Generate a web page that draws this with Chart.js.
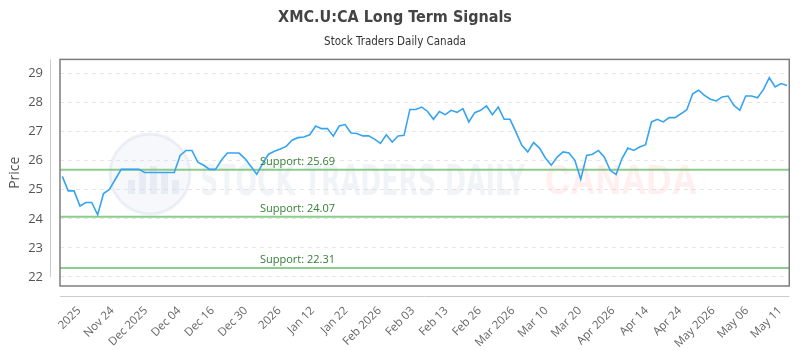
<!DOCTYPE html>
<html>
<head>
<meta charset="utf-8">
<script src="https://cdn.jsdelivr.net/npm/chart.js@4.4.0/dist/chart.umd.min.js"></script>
<style>
  body { margin: 0; background: #fff; }
  .ChartWrapper { width: 800px; height: 350px; }
</style>
</head>
<body>
<div class="ChartWrapper"><canvas id="SignalsPlot"></canvas></div>
<script>
// daily closes
const prices = [
  25.46, 24.96, 24.96, 24.44, 24.56, 24.56, 24.14, 24.87, 25.01, 25.36,
  25.70, 25.70, 25.70, 25.70, 25.59, 25.59, 25.59, 25.59, 25.59, 25.59,
  26.18, 26.35, 26.35, 25.95, 25.84, 25.70, 25.70, 26.01, 26.26, 26.26,
  26.26, 26.07, 25.81, 25.53, 25.90, 26.22, 26.32, 26.40, 26.49, 26.70,
  26.79, 26.81, 26.89, 27.19, 27.10, 27.10, 26.84, 27.19, 27.24, 26.95,
  26.93, 26.85, 26.85, 26.74, 26.59, 26.89, 26.64, 26.85, 26.87, 27.76,
  27.76, 27.84, 27.69, 27.42, 27.69, 27.58, 27.73, 27.66, 27.79, 27.33,
  27.65, 27.73, 27.88, 27.58, 27.84, 27.42, 27.42, 26.98, 26.53, 26.30,
  26.62, 26.43, 26.09, 25.84, 26.12, 26.30, 26.26, 26.01, 25.36, 26.18,
  26.22, 26.35, 26.12, 25.67, 25.52, 26.07, 26.43, 26.35, 26.47, 26.55,
  27.33, 27.42, 27.33, 27.48, 27.48, 27.61, 27.75, 28.30, 28.42, 28.24,
  28.11, 28.05, 28.19, 28.22, 27.90, 27.73, 28.22, 28.22, 28.16, 28.44,
  28.85, 28.53, 28.65, 28.58
]

const tickLabels = [
  '2025', 'Nov 24', 'Dec 2025', 'Dec 04', 'Dec 16', 'Dec 30', '2026', 'Jan 12',
  'Jan 22', 'Feb 2026', 'Feb 03', 'Feb 13', 'Feb 26', 'Mar 2026', 'Mar 10',
  'Mar 20', 'Apr 2026', 'Apr 14', 'Apr 24', 'May 2026', 'May 06', 'May 11'
]

const supportLevels = [25.69, 24.07, 22.31]
const priceTicks = [22, 23, 24, 25, 26, 27, 28, 29]

const xMin = -0.39, xMax = prices.length - 1 + 0.39
const firstTick = 2.83, tickStep = 5.667

const pricePoints = prices.map((p, i) => ({x: i, y: p}))

const supportSets = supportLevels.map(level => ({
    label: 'Support: ' + level.toFixed(2),
    data: [{x: xMin, y: level}, {x: xMax, y: level}],
    borderColor: 'rgba(120, 195, 120, 0.85)',
    borderWidth: 2,
    pointRadius: 0,
    order: 2,
}))

// fits a string into a box by scaling it
function fitText(ctx, text, x, y, w, h, font, color) {
    ctx.save()
    ctx.font = font
    ctx.fillStyle = color
    ctx.textBaseline = 'alphabetic'
    const m = ctx.measureText(text)
    const tw = m.width
    const th = m.actualBoundingBoxAscent
    ctx.translate(x, y + h)
    ctx.scale(w / tw, h / th)
    ctx.fillText(text, 0, 0)
    ctx.restore()
}

const frame = {
    id: 'frame',
    beforeDatasetsDraw(chart) {
        const {ctx} = chart
        // watermark
        ctx.save()
        ctx.beginPath()
        ctx.arc(150, 174, 40, 0, Math.PI * 2)
        ctx.fillStyle = 'rgba(215, 224, 238, 0.22)'
        ctx.fill()
        ctx.lineWidth = 3
        ctx.strokeStyle = 'rgba(200, 210, 228, 0.3)'
        ctx.stroke()
        ctx.fillStyle = 'rgba(200, 210, 228, 0.3)'
        ;[[128, 180, 7, 28], [139, 172, 7, 36], [150, 166, 7, 42], [161, 172, 7, 36], [172, 180, 7, 28]]
            .forEach(([bx, by, bw, bh]) => ctx.fillRect(bx, by, bw, bh - 14))
        ctx.restore()
        fitText(ctx, 'STOCK TRADERS DAILY', 200, 162, 325, 33, 'bold 40px "DejaVu Sans Condensed", sans-serif', 'rgba(205, 214, 228, 0.28)')
        fitText(ctx, 'CANADA', 545, 164, 152, 30, 'bold 40px "Liberation Sans", sans-serif', 'rgba(255, 180, 180, 0.22)')
    },
    afterDatasetsDraw(chart) {
        const {ctx, scales: {y}} = chart
        ctx.save()
        ctx.font = '11px "Open Sans", sans-serif'
        ctx.fillStyle = '#347f34'
        ctx.textBaseline = 'middle'
        supportLevels.forEach(level => {
            ctx.fillText('Support: ' + level.toFixed(2), 260, y.getPixelForValue(level) - 8)
        })
        ctx.restore()
    },
    afterDraw(chart) {
        const {ctx, chartArea: a} = chart
        ctx.save()
        ctx.strokeStyle = '#7d7d7d'
        ctx.lineWidth = 1.5
        ctx.strokeRect(a.left, a.top, a.right - a.left, a.bottom - a.top)
        ctx.strokeStyle = '#cccccc'
        ctx.lineWidth = 1
        ctx.beginPath()
        ctx.moveTo(a.left - 9.5, a.top)
        ctx.lineTo(a.left - 9.5, a.bottom - 9)
        ctx.moveTo(a.left, a.bottom + 10.5)
        ctx.lineTo(a.right, a.bottom + 10.5)
        ctx.stroke()
        ctx.restore()
    }
}

const ctx = document.getElementById('SignalsPlot')
new Chart(ctx, {
    type: 'line',
    data: {
        datasets: [{
            label: 'Price',
            data: pricePoints,
            borderColor: 'rgb(54, 164, 240)',
            borderWidth: 1.6,
            pointRadius: 0,
            tension: 0,
            fill: false,
            order: 1,
        }, ...supportSets]
    },
    options: {
        responsive: true,
        maintainAspectRatio: false,
        animation: false,
        layout: { padding: { left: 0, right: 10, top: 1.4, bottom: 0 } },
        plugins: {
            legend: { display: false },
            tooltip: { enabled: false },
            title: {
                display: true,
                text: 'XMC.U:CA Long Term Signals',
                color: '#444',
                font: { family: '"DejaVu Sans Condensed", sans-serif', size: 16, weight: 'bold' },
                padding: { top: 6.5, bottom: 6.5 }
            },
            subtitle: {
                display: true,
                text: 'Stock Traders Daily Canada',
                color: '#333',
                font: { family: '"DejaVu Sans Condensed", sans-serif', size: 11.5 },
                padding: { top: 2, bottom: 10 }
            }
        },
        scales: {
            x: {
                type: 'linear',
                min: xMin,
                max: xMax,
                grid: { display: false },
                border: { display: false },
                afterFit: scale => { scale.height = 64 },
                afterBuildTicks: scale => {
                    scale.ticks = tickLabels.map((t, i) => ({ value: firstTick + i * tickStep }))
                },
                ticks: {
                    autoSkip: false,
                    maxRotation: 45,
                    minRotation: 45,
                    padding: 10,
                    color: '#666',
                    font: { family: '"Open Sans", sans-serif', size: 11.5 },
                    callback: (value, index) => tickLabels[index]
                }
            },
            y: {
                min: 21.69,
                max: 29.48,
                afterFit: scale => { scale.width = 60 },
                afterBuildTicks: scale => {
                    scale.ticks = priceTicks.map(v => ({ value: v }))
                },
                grid: { color: '#e6e6e6', drawTicks: false },
                border: { display: false, dash: [4, 4] },
                ticks: {
                    padding: 17,
                    color: '#555',
                    font: { family: '"Open Sans", sans-serif', size: 13 }
                },
                title: {
                    display: true,
                    text: 'Price',
                    color: '#555',
                    font: { family: '"Open Sans", sans-serif', size: 14 },
                    padding: { top: 7, bottom: 0 }
                }
            }
        }
    },
    plugins: [frame]
})
</script>
</body>
</html>
